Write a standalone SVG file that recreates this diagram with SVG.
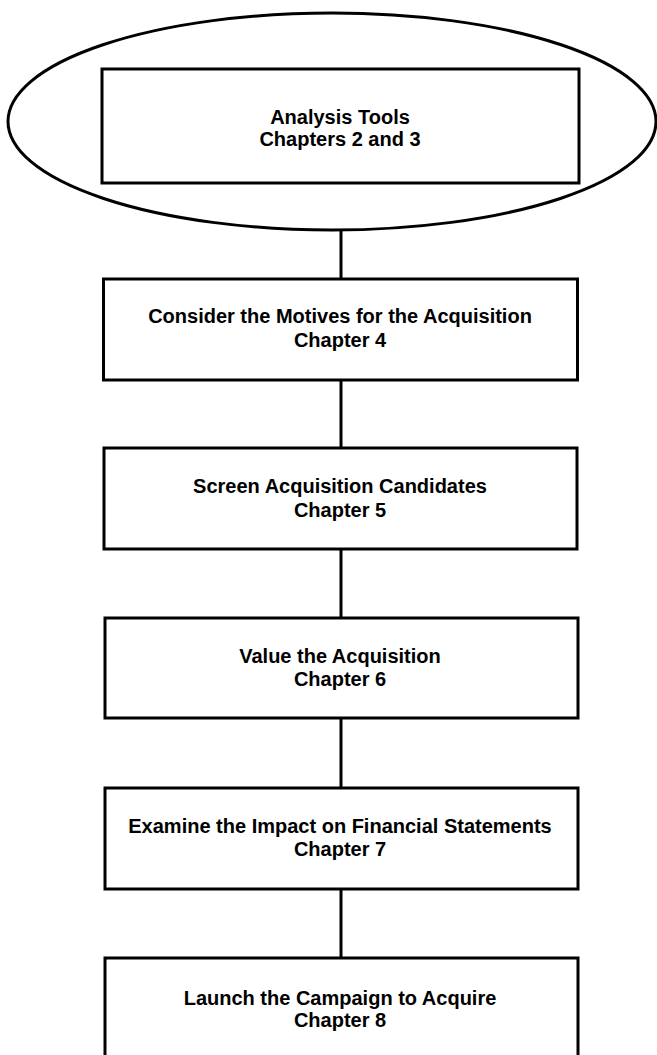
<svg xmlns="http://www.w3.org/2000/svg" width="657" height="1055" viewBox="0 0 657 1055">
<style>
.box{fill:none;stroke:#000;stroke-width:3}
.conn{stroke:#000;stroke-width:3;fill:none}
text{font-family:"Liberation Sans",Arial,sans-serif;font-size:20px;font-weight:bold;text-anchor:middle;fill:#000}
</style>
<rect width="657" height="1055" fill="#fff"/>
<g id="connectors">
<line class="conn" x1="341" y1="230" x2="341" y2="279"/>
<line class="conn" x1="341" y1="380" x2="341" y2="448"/>
<line class="conn" x1="341" y1="549" x2="341" y2="618"/>
<line class="conn" x1="341" y1="718" x2="341" y2="788"/>
<line class="conn" x1="341" y1="889" x2="341" y2="958"/>
</g>
<g id="analysis-tools">
<ellipse class="box" cx="332" cy="121.5" rx="324" ry="108.5"/>
<rect class="box" x="102" y="69" width="477" height="114"/>
<text x="340" y="124">Analysis Tools</text>
<text x="340" y="146">Chapters 2 and 3</text>
</g>
<g id="motives">
<rect class="box" x="103.5" y="279" width="474" height="101"/>
<text x="340" y="323">Consider the Motives for the Acquisition</text>
<text x="340" y="347">Chapter 4</text>
</g>
<g id="screen">
<rect class="box" x="104" y="448" width="473" height="101"/>
<text x="340" y="493">Screen Acquisition Candidates</text>
<text x="340" y="517">Chapter 5</text>
</g>
<g id="value">
<rect class="box" x="105" y="618" width="473" height="100"/>
<text x="340" y="663">Value the Acquisition</text>
<text x="340" y="686">Chapter 6</text>
</g>
<g id="impact">
<rect class="box" x="105" y="788" width="473" height="101"/>
<text x="340" y="833">Examine the Impact on Financial Statements</text>
<text x="340" y="856">Chapter 7</text>
</g>
<g id="launch">
<rect class="box" x="105" y="958" width="473" height="101"/>
<text x="340" y="1005">Launch the Campaign to Acquire</text>
<text x="340" y="1027">Chapter 8</text>
</g>
</svg>
